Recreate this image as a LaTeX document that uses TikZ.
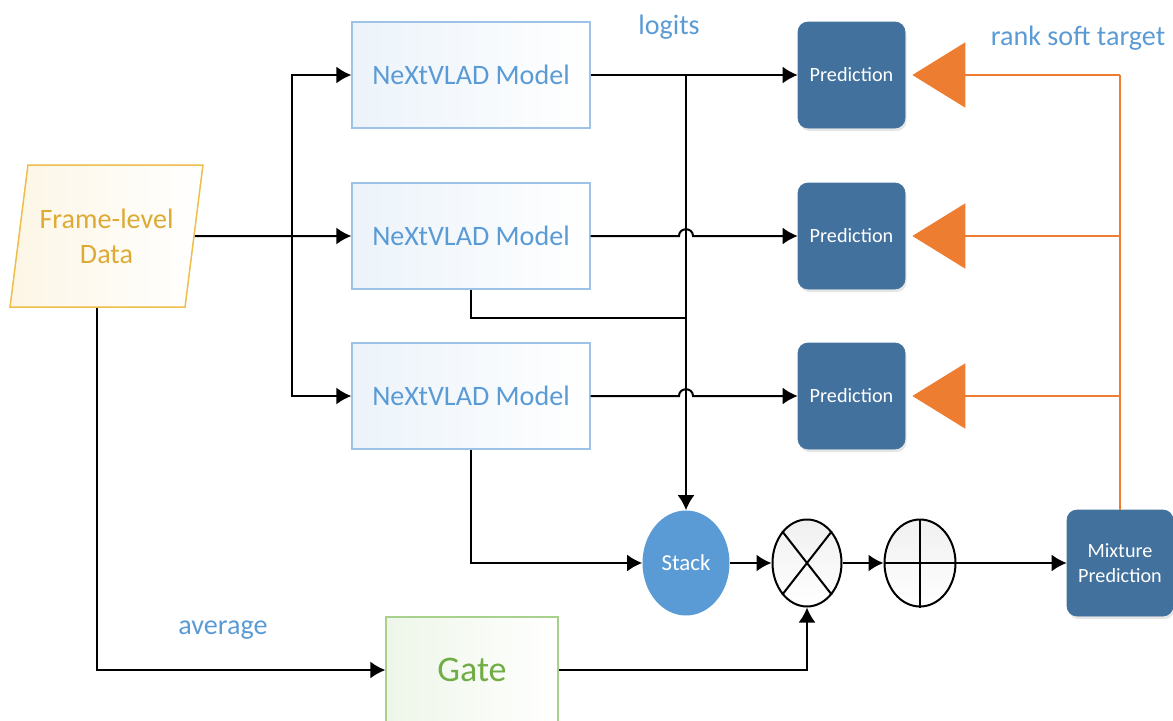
\documentclass[tikz,border=0pt]{standalone}
\usepackage{fontspec}
\setmainfont{Carlito}
\usetikzlibrary{arrows.meta,shapes.geometric,shadows,calc}

\definecolor{modelblue}{HTML}{5B9BD5}
\definecolor{modelline}{HTML}{9DC3E6}
\definecolor{predblue}{HTML}{41719C}
\definecolor{framegold}{HTML}{EDBE4B}
\definecolor{frametext}{HTML}{DDAA33}
\definecolor{gategreen}{HTML}{70AD47}
\definecolor{gateline}{HTML}{A9D18E}
\definecolor{softorange}{HTML}{ED7D31}

\tikzset{
  link/.style={line width=0.4mm, -{Latex[length=3mm,width=3.4mm]}},
  plain/.style={line width=0.4mm},
  model/.style={draw=modelline, line width=0.25mm, minimum width=47.6mm, minimum height=21.2mm,
    left color=modelblue!12, right color=white, text=modelblue,
    font=\fontsize{16}{19}\selectfont},
  pred/.style={fill=predblue, draw=predblue, rounded corners=2mm, minimum width=21.4mm,
    minimum height=21.2mm, text=white, font=\fontsize{11.5}{14}\selectfont,
    drop shadow={opacity=0.2, shadow xshift=0.3mm, shadow yshift=-0.6mm}},
  opcircle/.style={ellipse, draw, line width=0.4mm, inner sep=0pt, top color=black!6, bottom color=white},
  soft/.style={draw=softorange, line width=0.4mm, -{Triangle[length=10.6mm,width=13mm]}, shorten >=1.4mm},
  label/.style={text=modelblue, font=\fontsize{16}{19}\selectfont},
}

\begin{document}
\begin{tikzpicture}[x=0.2mm, y=-0.2mm]
    \useasboundingbox (0,0) rectangle (1173,721);

    % Input data and the three branches
    \node[trapezium, trapezium left angle=76, trapezium right angle=104, trapezium stretches=true,
          minimum width=38.6mm, minimum height=28.4mm, draw=framegold, line width=0.3mm,
          left color=framegold!14, right color=white, text=frametext, align=center,
          font=\fontsize{16}{20}\selectfont] (frame) at (106.5,236) {Frame-level\\Data};

    \node[model] (model1) at (471,75) {NeXtVLAD Model};
    \node[model] (model2) at (471,236) {NeXtVLAD Model};
    \node[model] (model3) at (471,396) {NeXtVLAD Model};

    \node[pred] (pred1) at (851.5,75) {Prediction};
    \node[pred] (pred2) at (851.5,236) {Prediction};
    \node[pred] (pred3) at (851.5,396) {Prediction};

    % Fusion row
    \node[ellipse, fill=modelblue, minimum width=17.4mm, minimum height=21mm, inner sep=0pt,
          text=white, font=\fontsize{13}{15}\selectfont] (stack) at (686,563) {Stack};
    \node[opcircle, minimum width=13.8mm, minimum height=17.4mm] (times) at (807,563) {};
    \node[opcircle, minimum width=14.2mm, minimum height=17.4mm] (plus) at (920,563) {};
    \draw[line width=0.4mm] (times.52) -- (times.232) (times.128) -- (times.308);
    \draw[line width=0.4mm] (plus.north) -- (plus.south) (plus.west) -- (plus.east);
    \node[pred, minimum width=21.2mm, align=center, font=\fontsize{11.5}{14}\selectfont]
          (mix) at (1120,563) {Mixture\\Prediction};

    \node[draw=gateline, line width=0.25mm, minimum width=34.4mm, minimum height=21.2mm,
          left color=gateline!20, right color=white, text=gategreen,
          font=\fontsize{20.5}{24}\selectfont] (gate) at (472,670) {Gate};

    % Labels
    \node[label] (logits) at (669,27) {logits};
    \node[label] (rank) at (1078,38) {rank soft target};
    \node[label] (avg) at (223,630) {average};

    % Split the input into the branches
    \coordinate (split) at (292,236);
    \draw[link] (frame.east) -- (model2.west);
    \draw[link] (split) |- (model1.west);
    \draw[link] (split) |- (model3.west);

    % Logits to the predictions and to the stack
    \coordinate (j1) at (686,75);
    \coordinate (j2) at (686,318);
    \coordinate (h2) at (j1 |- model2.east);
    \coordinate (h3) at (j1 |- model3.east);
    \draw[link] (model1.east) -- (pred1.west);
    \draw[link] (j1) -- (stack.north);
    \draw[link] (model2.east) -- ($(h2)+(-7,0)$) .. controls +(0,-9) and +(0,-9) .. ($(h2)+(7,0)$) -- (pred2.west);
    \draw[link] (model3.east) -- ($(h3)+(-7,0)$) .. controls +(0,-9) and +(0,-9) .. ($(h3)+(7,0)$) -- (pred3.west);
    \draw[plain] (model2.south) |- (j2);
    \draw[link] (model3.south) |- (stack.west);

    % Gate branch
    \draw[link] (frame.bottom side) |- (gate.west);
    \draw[link] (gate.east) -| (times.south);

    % Mixture
    \draw[link] (stack.east) -- (times.west);
    \draw[link] (times.east) -- (plus.west);
    \draw[link] (plus.east) -- (mix.west);

    % Soft targets back to each prediction
    \coordinate (r1) at (mix.north |- pred1.east);
    \coordinate (r2) at (mix.north |- pred2.east);
    \coordinate (r3) at (mix.north |- pred3.east);
    \draw[draw=softorange, line width=0.4mm] (mix.north) -- (r1);
    \draw[soft] (r1) -- (pred1.east);
    \draw[soft] (r2) -- (pred2.east);
    \draw[soft] (r3) -- (pred3.east);
\end{tikzpicture}
\end{document}
